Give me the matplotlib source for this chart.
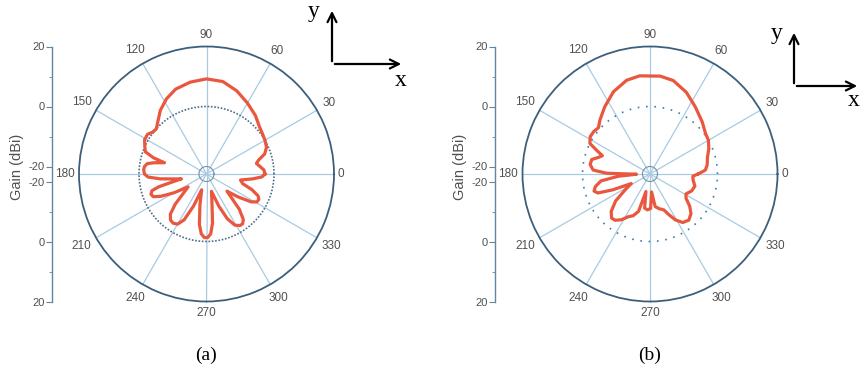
import numpy as np
import matplotlib.pyplot as plt
from matplotlib.patches import FancyArrowPatch

plt.rcParams['font.family'] = ['Liberation Sans', 'DejaVu Sans']

# Diagrama de radiación (a): ángulo (grados) y ganancia (dBi)
ang_a = [0, 4, 8, 12, 15, 19, 24, 30, 36, 42, 50, 60, 70, 80, 90, 100, 110, 118,
         126, 133, 138, 142, 146, 151, 156, 160, 163, 165, 168, 170, 173, 176, 180,
         183, 186, 189, 191, 193, 195, 197, 200, 203, 206, 210, 215, 219, 224, 228,
         232, 236, 240, 244, 248, 253, 258, 262, 265, 268, 271, 274, 277, 281, 286,
         291, 295, 299, 303, 306, 309, 313, 317, 320, 324, 328, 331, 334, 337, 341,
         345, 350, 354, 357, 360]
gain_a = [-3.0, -3.3, -4.5, -5.5, -4.5, -2.0, -0.6, 0.0, 0.5, 1.2, 2.9, 4.8, 7.0, 8.8,
          9.2, 8.6, 7.6, 5.9, 3.7, 1.3, 0.0, 0.2, 1.2, 1.1, 0.0, -0.8, -4.0, -8.0,
          -4.5, -2.5, -1.7, -1.5, -1.8, -3.0, -7.0, -12.0, -14.0, -11.0, -6.0, -3.5,
          -2.8, -3.2, -5.5, -10.0, -15.0, -13.0, -8.0, -4.5, -3.0, -2.7, -3.2, -5.5,
          -11.0, -17.0, -12.0, -5.5, -2.5, -1.3, -1.3, -2.5, -6.0, -13.0, -16.5,
          -11.0, -6.0, -3.0, -2.0, -2.0, -3.0, -6.5, -11.5, -13.6, -9.5, -5.0, -3.3,
          -3.1, -3.8, -6.5, -10.0, -11.0, -7.0, -4.0, -3.0]

# Diagrama de radiación (b)
ang_b = [0, 4, 9, 16, 23, 30, 36, 45, 56, 66, 76, 84, 96, 104, 114, 124, 133, 138,
         143, 148, 153, 156, 159, 162, 166, 171, 176, 179, 181, 184, 188, 193, 197,
         200, 203, 207, 212, 218, 224, 229, 233, 238, 243, 248, 253, 257, 261, 266,
         271, 275, 279, 285, 291, 295, 299, 304, 310, 316, 321, 326, 331, 338, 345,
         352, 357, 360]
gain_b = [-6.5, -4.0, -3.2, -2.6, -1.2, 0.0, 0.4, 2.1, 4.5, 7.3, 9.6, 10.3, 10.4, 9.7,
          7.5, 4.5, 2.0, 0.6, 1.0, 1.0, 0.0, -3.0, -5.5, -4.5, -2.5, -2.3, -3.5, -8.0,
          -18.0, -12.0, -6.0, -3.8, -3.0, -4.0, -9.0, -15.5, -13.0, -8.0, -4.5, -3.0,
          -3.2, -4.5, -6.5, -7.5, -9.5, -16.5, -11.0, -10.5, -11.0, -16.5, -11.5,
          -10.5, -9.7, -7.5, -5.0, -3.0, -2.4, -3.5, -5.5, -8.0, -8.8, -7.5, -7.0,
          -8.0, -8.2, -6.5]

theta_ticks = [0, 30, 60, 90, 120, 150, 180, 210, 240, 270, 300, 330]
r_ticks = [20, 0, -20]
r_minor = [10, -10]

W, H = 861, 373
R0 = -22.5      # origen radial -> pequeño hueco en el centro
RMIN, RMAX = -20, 20
RAD = 127.5     # radio del círculo en píxeles
PXDB = RAD / (RMAX - R0)
CY = 174

fig = plt.figure(figsize=(W / 100, H / 100), dpi=100)


def px(x, y):
    return (x / W, 1 - y / H)


def panel(cx, axis_x, gain_x, ang, gain, dot_style, dot_color, caption):
    ax = fig.add_axes([(cx - RAD) / W, (H - CY - RAD) / H, 2 * RAD / W, 2 * RAD / H],
                      projection='polar')
    ax.set_rorigin(R0)
    ax.set_ylim(RMIN, RMAX)
    ax.set_xticks([])
    ax.set_yticks([])
    ax.spines['polar'].set_color('#3c5f7c')
    ax.spines['polar'].set_linewidth(1.3)
    ax.spines['inner'].set_color('#7890a5')
    ax.spines['inner'].set_linewidth(0.8)

    # líneas radiales hasta el centro
    for a in theta_ticks:
        t = np.deg2rad(a)
        ax.plot([t, t], [R0, RMAX], color='#a8cbe2', lw=0.9, clip_on=False, zorder=1)

    tt = np.linspace(0, 2 * np.pi, 721)
    ax.plot(tt, np.zeros_like(tt), ls=dot_style, color=dot_color, lw=1.2, zorder=2)
    ax.plot(np.deg2rad(ang), gain, color='#e9573f', lw=2.3, zorder=3)

    for a in theta_ticks:
        t = np.deg2rad(a)
        lab = str(a)
        rpx = 131 + 3.6 * len(lab) * abs(np.cos(t)) + 8 * abs(np.sin(t))
        ax.text(t, rpx / PXDB + R0, lab, ha='center', va='center',
                fontsize=8.5, color='#505050')

    # eje lineal de ganancia a la izquierda
    lax = fig.add_axes([axis_x / W, (H - CY - RAD) / H, 0.0001, 2 * RAD / H])
    span = RMAX - R0
    lax.set_ylim(-span, span)
    pos = [v - R0 for v in r_ticks] + [-(v - R0) for v in r_ticks]
    lax.set_yticks(pos)
    lax.set_yticklabels([str(v) for v in r_ticks] * 2)
    lax.set_yticks([v - R0 for v in r_minor] + [-(v - R0) for v in r_minor], minor=True)
    lax.set_xticks([])
    for s in ['top', 'right', 'bottom']:
        lax.spines[s].set_visible(False)
    lax.spines['left'].set_color('#5f86a3')
    lax.spines['left'].set_linewidth(1.0)
    lax.tick_params(axis='y', which='major', length=4, pad=1, color='#5f86a3',
                    labelsize=8, labelcolor='#505050')
    lax.tick_params(axis='y', which='minor', length=2.5, color='#5f86a3')
    lax.patch.set_visible(False)

    fig.text(*px(gain_x, 167), 'Gain (dBi)', rotation=90, ha='center', va='center',
             fontsize=10.5, color='#505050')
    fig.text(*px(cx, 355), caption, ha='center', va='center', fontsize=14,
             family='Liberation Serif')
    return ax


panel(206.5, 51.7, 17, ang_a, gain_a, (0, (1, 1)), '#4f6e88', '(a)')
panel(650, 495, 460, ang_b, gain_b, (0, (1, 4)), '#3c7bb0', '(b)')


def arrow(p0, p1):
    fig.add_artist(FancyArrowPatch(px(*p0), px(*p1), transform=fig.transFigure,
                                   arrowstyle='->', mutation_scale=16, lw=1.6,
                                   color='black'))


# ejes de referencia x-y
arrow((332, 64), (332, 8))
arrow((332, 64), (404, 64))
fig.text(*px(314, 12), 'y', ha='center', va='center', fontsize=17,
         family='Liberation Serif')
fig.text(*px(401, 80), 'x', ha='center', va='center', fontsize=17,
         family='Liberation Serif')

arrow((794, 86), (794, 30))
arrow((794, 86), (860, 86))
fig.text(*px(777, 33), 'y', ha='center', va='center', fontsize=17,
         family='Liberation Serif')
fig.text(*px(860, 101), 'x', ha='right', va='center', fontsize=17,
         family='Liberation Serif')

fig.savefig('out.png', dpi=100)
